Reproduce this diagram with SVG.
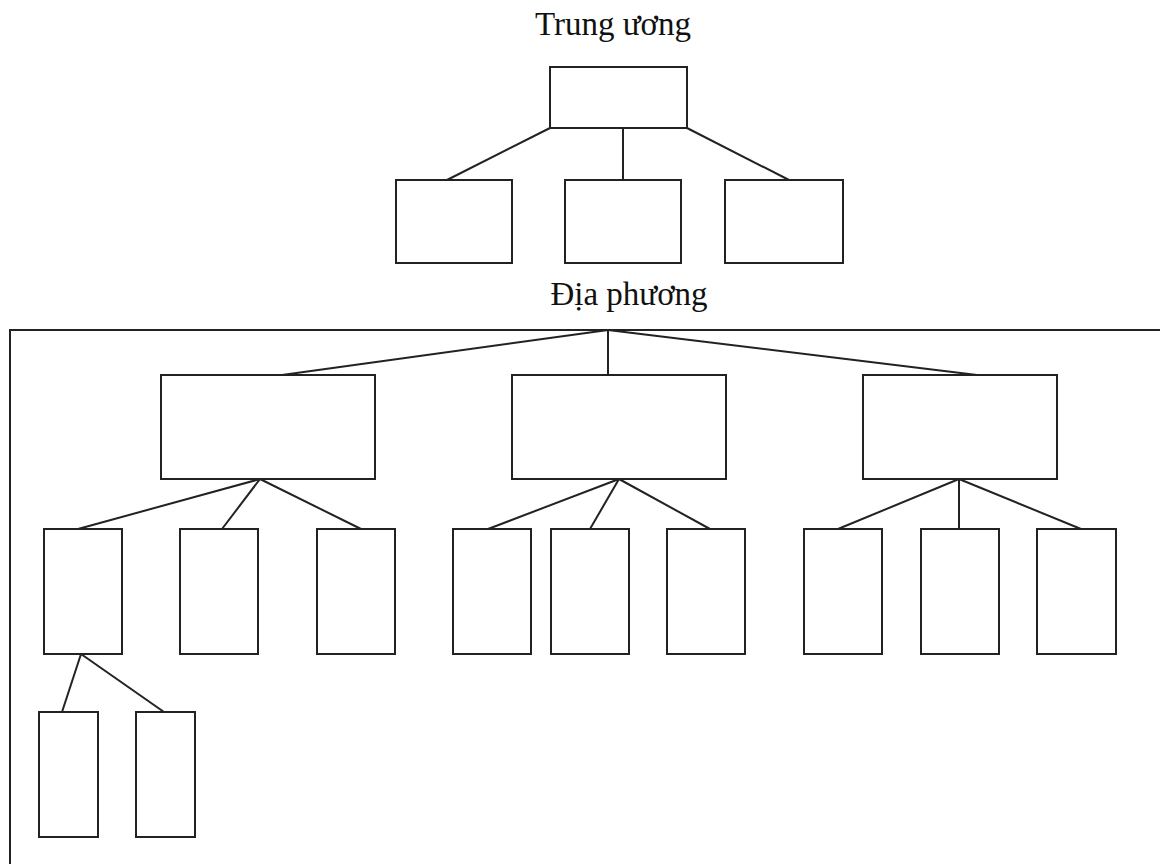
<svg xmlns="http://www.w3.org/2000/svg" width="1160" height="864" viewBox="0 0 1160 864">
<style>
.box{fill:#fff;stroke:#222;stroke-width:2}
.ln{stroke:#222;stroke-width:2;fill:none}
.lbl{font-family:"Liberation Serif",serif;font-size:33px;fill:#111;text-anchor:middle}
</style>
<rect width="1160" height="864" fill="#fff"/>
<text class="lbl" x="613" y="35">Trung ương</text>
<text class="lbl" x="629" y="305">Địa phương</text>
<g id="frame"><rect class="box" x="10" y="330" width="1200" height="600"/></g>
<g id="connectors">
<line class="ln" x1="550" y1="128" x2="447" y2="180"/>
<line class="ln" x1="623" y1="128" x2="623" y2="180"/>
<line class="ln" x1="687" y1="128" x2="789" y2="180"/>
<line class="ln" x1="608" y1="330" x2="282" y2="375"/>
<line class="ln" x1="608" y1="330" x2="608" y2="378"/>
<line class="ln" x1="608" y1="330" x2="977" y2="375"/>
<line class="ln" x1="260" y1="479" x2="78" y2="529"/>
<line class="ln" x1="260" y1="479" x2="222" y2="529"/>
<line class="ln" x1="260" y1="479" x2="361" y2="529"/>
<line class="ln" x1="619" y1="479" x2="488" y2="529"/>
<line class="ln" x1="619" y1="479" x2="590" y2="529"/>
<line class="ln" x1="619" y1="479" x2="710" y2="529"/>
<line class="ln" x1="959" y1="479" x2="838" y2="529"/>
<line class="ln" x1="959" y1="479" x2="959" y2="529"/>
<line class="ln" x1="959" y1="479" x2="1081" y2="529"/>
<line class="ln" x1="81" y1="654" x2="62" y2="712"/>
<line class="ln" x1="81" y1="654" x2="164" y2="712"/>
</g>
<g id="tw"><rect class="box" x="550" y="67" width="137" height="61"/></g>
<g id="tw1"><rect class="box" x="396" y="180" width="116" height="83"/></g>
<g id="tw2"><rect class="box" x="565" y="180" width="116" height="83"/></g>
<g id="tw3"><rect class="box" x="725" y="180" width="118" height="83"/></g>
<g id="dpA"><rect class="box" x="161" y="375" width="214" height="104"/></g>
<g id="dpB"><rect class="box" x="512" y="375" width="214" height="104"/></g>
<g id="dpC"><rect class="box" x="863" y="375" width="194" height="104"/></g>
<g id="a1"><rect class="box" x="44" y="529" width="78" height="125"/></g>
<g id="a2"><rect class="box" x="180" y="529" width="78" height="125"/></g>
<g id="a3"><rect class="box" x="317" y="529" width="78" height="125"/></g>
<g id="b1"><rect class="box" x="453" y="529" width="78" height="125"/></g>
<g id="b2"><rect class="box" x="551" y="529" width="78" height="125"/></g>
<g id="b3"><rect class="box" x="667" y="529" width="78" height="125"/></g>
<g id="c1"><rect class="box" x="804" y="529" width="78" height="125"/></g>
<g id="c2"><rect class="box" x="921" y="529" width="78" height="125"/></g>
<g id="c3"><rect class="box" x="1037" y="529" width="79" height="125"/></g>
<g id="d1"><rect class="box" x="39" y="712" width="59" height="125"/></g>
<g id="d2"><rect class="box" x="136" y="712" width="59" height="125"/></g>
</svg>
